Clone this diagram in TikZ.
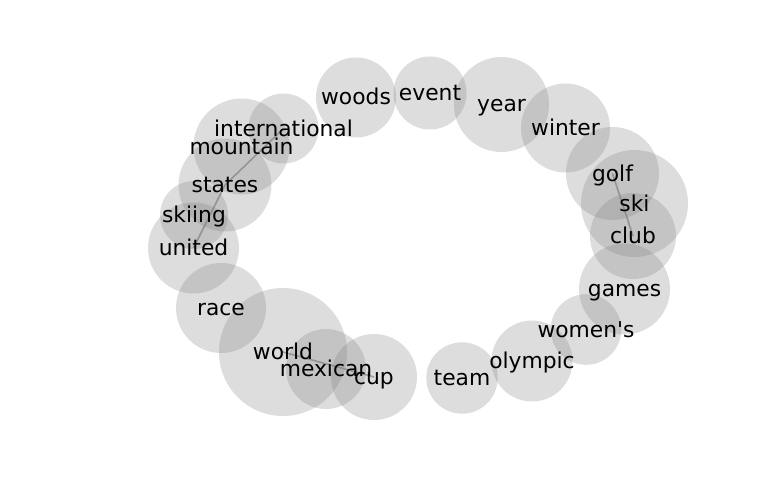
\documentclass[tikz,border=0pt]{standalone}
\usepackage{fontspec}
\setmainfont{DejaVu Sans}
\newcommand\straightquote{\XeTeXglyph\XeTeXcharglyph"27\relax}
\begin{document}
\begin{tikzpicture}[x=1pt,y=-1pt,
  bub/.style={fill=black!50,fill opacity=0.27,draw=none},
  lbl/.style={anchor=base,inner sep=0pt,font=\fontsize{21.8}{24}\selectfont,text=black},
  edge/.style={draw=black!45,line width=1.6pt,opacity=0.75}]
\useasboundingbox (0,0) rectangle (768,500);
% node coordinates (circle centres)
\coordinate (woods) at (356,97.5);
\coordinate (event) at (430,93);
\coordinate (year) at (501.5,104.5);
\coordinate (winter) at (565.5,128);
\coordinate (international) at (283.5,128.5);
\coordinate (mountain) at (241.5,146.5);
\coordinate (states) at (225,185);
\coordinate (skiing) at (194,215);
\coordinate (united) at (193.5,248);
\coordinate (race) at (221,308);
\coordinate (world) at (283,352);
\coordinate (mexican) at (326,369);
\coordinate (cup) at (374,377);
\coordinate (team) at (462,378);
\coordinate (olympic) at (532,361);
\coordinate (womens) at (586,329.5);
\coordinate (games) at (624.5,289);
\coordinate (club) at (633,236);
\coordinate (ski) at (634.5,203.5);
\coordinate (golf) at (612.5,173.5);
% edges
\draw[edge] (international) -- (states);
\draw[edge] (states) -- (united);
\draw[edge] (golf) -- (club);
\draw[edge] (world) -- (cup);
% circles
\foreach \n/\r in {woods/40,event/36.5,year/47.5,winter/44.5,international/35,
  mountain/48,states/46.5,skiing/34,united/45.5,race/45,world/64,mexican/40,
  cup/43,team/35.7,olympic/40.5,womens/35.3,games/45.5,club/43,ski/53.5,golf/46.5}
  \fill[bub] (\n) circle (\r);
% labels
\foreach \n/\t in {woods/woods,event/event,year/year,winter/winter,
  international/international,mountain/mountain,states/states,skiing/skiing,
  united/united,race/race,world/world,mexican/mexican,cup/cup,team/team,
  olympic/olympic,womens/{women\straightquote s},games/games,club/club,ski/ski,golf/golf}
  \node[lbl] (t-\n) at ([yshift=-7.5pt]\n) {\t};
\end{tikzpicture}
\end{document}
